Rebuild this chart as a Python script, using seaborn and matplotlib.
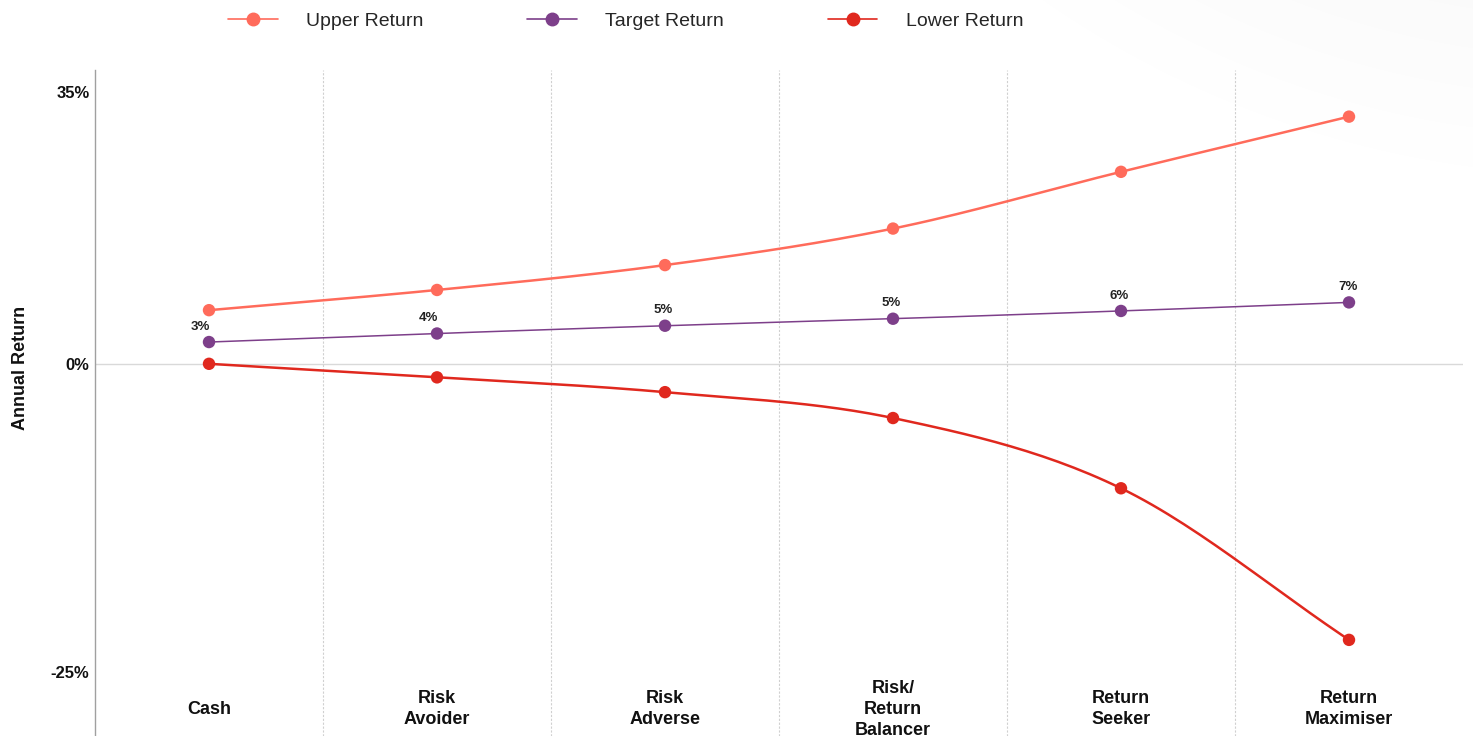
import numpy as np
import pandas as pd
import matplotlib
matplotlib.use("Agg")
import matplotlib.pyplot as plt
from matplotlib.lines import Line2D
import seaborn as sns

# chart data
categories = ["Cash", "Risk\nAvoider", "Risk\nAdverse", "Risk/\nReturn\nBalancer", "Return\nSeeker", "Return\nMaximiser"]
upper_return = [6.9, 9.5, 12.7, 17.4, 24.7, 31.8]
target_return = [2.8, 3.9, 4.9, 5.8, 6.8, 7.9]
lower_return = [0.0, -1.1, -2.3, -4.4, -10.1, -22.4]
target_labels = ["3%", "4%", "5%", "5%", "6%", "7%"]
ytick_values = [35, 0, -25]
ytick_labels = ["35%", "0%", "-25%"]

colors = {"Upper Return": "#FF6B5B", "Target Return": "#7D3F8A", "Lower Return": "#E0281E"}
widths = {"Upper Return": 1.8, "Target Return": 1.1, "Lower Return": 1.8}

df = pd.DataFrame({
    "x": list(range(len(categories))) * 3,
    "value": upper_return + target_return + lower_return,
    "series": ["Upper Return"] * 6 + ["Target Return"] * 6 + ["Lower Return"] * 6,
})

sns.set_style("white")
plt.rcParams['font.family'] = ['Liberation Sans', 'DejaVu Sans']

fig = plt.figure(figsize=(14.73, 7.36), dpi=100)

# faint grey shading in the top right corner
bg = fig.add_axes([0, 0, 1, 1], zorder=-1)
gx, gy = np.meshgrid(np.arange(1473), np.arange(736))
d = np.hypot(gx - 1600, gy + 800)
shade = 1 - 0.025 * np.clip((975 - d) / 250, 0, 1)
bg.imshow(np.dstack([shade] * 3), aspect="auto", extent=(0, 1, 0, 1))
bg.axis("off")

ax = fig.add_axes([95 / 1473, 0, 1368 / 1473, 666 / 736])
ax.patch.set_alpha(0)

# the negative side of the axis is stretched in the original
k = 12.32 / 7.77
ax.set_yscale("function", functions=(lambda y: np.where(y >= 0, y, y * k),
                                     lambda z: np.where(z >= 0, z, z / k)))


def smooth(xs, ys, n=30):
    # catmull-rom curve through the points, only for drawing the line
    xs = np.asarray(xs, float)
    ys = np.asarray(ys, float)
    px = np.concatenate([[2 * xs[0] - xs[1]], xs, [2 * xs[-1] - xs[-2]]])
    py = np.concatenate([[2 * ys[0] - ys[1]], ys, [2 * ys[-1] - ys[-2]]])
    ox, oy = [], []
    t = np.linspace(0, 1, n)
    for i in range(1, len(px) - 2):
        for p, out in ((px, ox), (py, oy)):
            p0, p1, p2, p3 = p[i - 1], p[i], p[i + 1], p[i + 2]
            out.extend(0.5 * (2 * p1 + (-p0 + p2) * t + (2 * p0 - 5 * p1 + 4 * p2 - p3) * t ** 2
                              + (-p0 + 3 * p1 - 3 * p2 + p3) * t ** 3))
    return ox, oy


for name, grp in df.groupby("series", sort=False):
    sx, sy = smooth(grp["x"], grp["value"])
    ax.plot(sx, sy, color=colors[name], lw=widths[name], zorder=3)

sns.scatterplot(data=df, x="x", y="value", hue="series", palette=colors, s=80,
                edgecolor="none", legend=False, zorder=4, ax=ax)

for i, lab in enumerate(target_labels):
    ax.annotate(lab, (i, target_return[i]), xytext=(-6 if i < 2 else -1, 11),
                textcoords="offset points", ha="center", va="center",
                fontsize=9.5, fontweight="bold", color="#222222")

ax.set_xlim(-0.5, 5.5)
ax.set_ylim(-30.2, 37.8)
ax.axhline(0, color="#d9d9d9", lw=1, zorder=1)
for b in np.arange(0.5, 5, 1):
    ax.axvline(b, color="#d0d0d0", lw=0.8, ls=(0, (2, 1.5)), zorder=1)

ax.set_yticks(ytick_values)
ax.set_yticklabels(ytick_labels, fontsize=12, fontweight="bold", color="#111111")
ax.tick_params(axis="y", length=0, pad=4)
ax.set_xticks([])
ax.set_xlabel("")

for i, cat in enumerate(categories):
    ax.text(i, 0.04, cat, transform=ax.get_xaxis_transform(), ha="center", va="center",
            fontsize=13, fontweight="bold", color="#111111", linespacing=1.3)

ax.set_ylabel("Annual Return", fontsize=13, fontweight="bold", color="#111111")
ax.yaxis.set_label_coords(-0.048, 0.553)

for s in ["top", "right", "bottom"]:
    ax.spines[s].set_visible(False)
ax.spines["left"].set_color("#a0a0a0")
ax.spines["left"].set_linewidth(1)

handles = [Line2D([0], [0], color=colors[n], lw=1.2, marker="o", markersize=9, label=n)
           for n in ["Upper Return", "Target Return", "Lower Return"]]
fig.legend(handles=handles, loc="center left", bbox_to_anchor=(228 / 1473, 1 - 21 / 736),
           ncol=3, frameon=False, fontsize=14, handlelength=2.55, handletextpad=1.45,
           columnspacing=5.35, borderaxespad=0, borderpad=0)

fig.savefig("out.png", dpi=100)
